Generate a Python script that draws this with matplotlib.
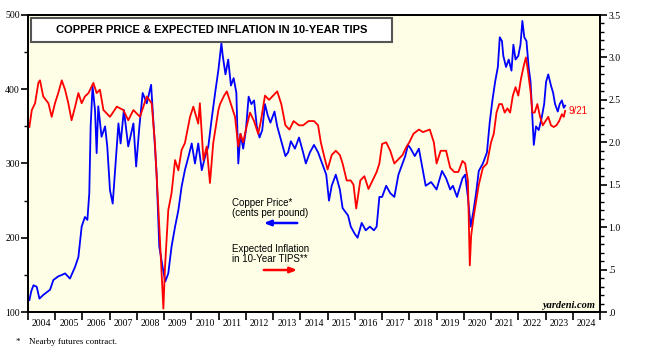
import matplotlib
matplotlib.use('Agg')
import matplotlib.pyplot as plt
from matplotlib.patches import Rectangle, FancyArrowPatch
from matplotlib.ticker import FixedLocator, MultipleLocator

# --- data (decimal years) ---
copper_dates = [2004.05, 2004.12, 2004.2, 2004.32, 2004.42, 2004.56, 2004.7, 2004.81, 2004.93,
                2005.11, 2005.25, 2005.36, 2005.54, 2005.73, 2005.85, 2005.97, 2006.09, 2006.18,
                2006.25, 2006.3, 2006.37, 2006.46, 2006.52, 2006.58, 2006.7, 2006.83, 2006.91,
                2007.01, 2007.11, 2007.19, 2007.32, 2007.4, 2007.52, 2007.68, 2007.87, 2007.97,
                2008.09, 2008.21, 2008.36, 2008.52, 2008.63, 2008.72, 2008.82, 2008.94, 2009.04,
                2009.15, 2009.27, 2009.4, 2009.52, 2009.64, 2009.76, 2009.89, 2010.01, 2010.13,
                2010.25, 2010.38, 2010.5, 2010.62, 2010.74, 2010.87, 2010.99, 2011.1, 2011.15,
                2011.25, 2011.35, 2011.45, 2011.55, 2011.65, 2011.72, 2011.8, 2011.9, 2012.0,
                2012.1, 2012.2, 2012.3, 2012.4, 2012.5, 2012.6, 2012.7, 2012.8, 2012.9, 2013.05,
                2013.15, 2013.3, 2013.45, 2013.55, 2013.65, 2013.8, 2013.95, 2014.1, 2014.2,
                2014.35, 2014.5, 2014.65, 2014.8, 2014.95, 2015.05, 2015.15, 2015.3, 2015.45,
                2015.55, 2015.65, 2015.75, 2015.85, 2016.0, 2016.1, 2016.25, 2016.4, 2016.55,
                2016.7, 2016.8, 2016.9, 2017.0, 2017.15, 2017.3, 2017.45, 2017.6, 2017.75,
                2017.85, 2017.95, 2018.05, 2018.2, 2018.35, 2018.5, 2018.6, 2018.8, 2019.0,
                2019.2, 2019.35, 2019.5, 2019.6, 2019.75, 2019.95, 2020.05, 2020.15, 2020.25,
                2020.35, 2020.45, 2020.55, 2020.7, 2020.85, 2020.95, 2021.05, 2021.15, 2021.25,
                2021.32, 2021.4, 2021.45, 2021.55, 2021.65, 2021.75, 2021.82, 2021.9, 2022.0,
                2022.08, 2022.15, 2022.22, 2022.3, 2022.38, 2022.45, 2022.52, 2022.57, 2022.65,
                2022.75, 2022.85, 2022.95, 2023.02, 2023.1, 2023.2, 2023.28, 2023.35, 2023.45,
                2023.52, 2023.6, 2023.67, 2023.72]
copper_vals = [116, 128, 136, 134, 118, 123, 127, 130, 143,
               148, 150, 152, 145, 161, 174, 215, 228, 224,
               260, 350, 404, 372, 314, 377, 336, 350, 323,
               264, 246, 287, 354, 327, 372, 323, 354, 296,
               350, 395, 381, 406, 341, 287, 188, 161, 141,
               152, 188, 215, 237, 269, 291, 309, 327, 300,
               327, 291, 309, 323, 359, 395, 426, 462, 445,
               420, 440, 405, 415, 395, 300, 340, 320, 345,
               390, 380, 385, 350, 335, 345, 380, 365, 355, 370,
               350, 330, 310, 315, 330, 320, 335, 315, 300,
               315, 325, 315, 300, 285, 250, 270, 285, 265,
               240, 235, 230, 215, 205, 200, 220, 210, 215,
               210, 215, 255, 255, 270, 260, 255, 285, 300,
               310, 325, 320, 310, 320, 290, 270, 275, 265,
               290, 280, 265, 270, 255, 280, 285, 255, 215,
               235, 260, 290, 300, 315, 355, 385, 410, 430,
               470, 465, 445, 430, 440, 425, 460, 440, 445,
               460, 492, 470, 465, 430, 410, 360, 325, 350,
               345, 360, 380, 410, 420, 405, 395, 380, 370,
               380, 385, 375, 378]

tips_dates = [2004.05, 2004.14, 2004.26, 2004.38, 2004.44, 2004.56, 2004.75, 2004.87, 2004.99,
              2005.11, 2005.24, 2005.36, 2005.48, 2005.6, 2005.73, 2005.85, 2005.97, 2006.09,
              2006.22, 2006.4, 2006.52, 2006.64, 2006.77, 2007.01, 2007.26, 2007.5, 2007.68,
              2007.87, 2008.11, 2008.36, 2008.54, 2008.66, 2008.79, 2008.91, 2008.97, 2009.03,
              2009.15, 2009.27, 2009.4, 2009.52, 2009.64, 2009.76, 2009.95, 2010.07, 2010.25,
              2010.31, 2010.44, 2010.56, 2010.68, 2010.8, 2010.99, 2011.05, 2011.2, 2011.3,
              2011.4, 2011.5, 2011.6, 2011.72, 2011.8, 2011.9, 2012.0, 2012.15, 2012.3, 2012.45,
              2012.55, 2012.7, 2012.85, 2013.0, 2013.15, 2013.3, 2013.45, 2013.6, 2013.75,
              2013.95, 2014.1, 2014.3, 2014.5, 2014.65, 2014.75, 2014.9, 2015.0, 2015.15,
              2015.3, 2015.45, 2015.55, 2015.7, 2015.85, 2015.95, 2016.05, 2016.2, 2016.35,
              2016.5, 2016.65, 2016.8, 2016.9, 2017.0, 2017.15, 2017.3, 2017.45, 2017.6,
              2017.75, 2017.9, 2018.0, 2018.15, 2018.35, 2018.5, 2018.75, 2018.9, 2019.0,
              2019.15, 2019.35, 2019.5, 2019.65, 2019.8, 2019.95, 2020.05, 2020.15, 2020.22,
              2020.27, 2020.35, 2020.45, 2020.55, 2020.7, 2020.85, 2021.0, 2021.1, 2021.2,
              2021.3, 2021.4, 2021.5, 2021.6, 2021.7, 2021.8, 2021.9, 2022.0, 2022.1, 2022.2,
              2022.28, 2022.35, 2022.45, 2022.52, 2022.6, 2022.7, 2022.8, 2022.9, 2023.0,
              2023.1, 2023.2, 2023.3, 2023.4, 2023.5, 2023.6, 2023.67, 2023.72]
tips_vals = [2.18, 2.38, 2.46, 2.70, 2.73, 2.54, 2.46, 2.30, 2.46,
             2.58, 2.73, 2.62, 2.46, 2.26, 2.42, 2.58, 2.46, 2.54,
             2.58, 2.70, 2.58, 2.62, 2.38, 2.30, 2.42, 2.38, 2.26,
             2.38, 2.30, 2.54, 2.46, 1.99, 1.20, 0.42, 0.04, 0.53,
             1.20, 1.40, 1.79, 1.67, 1.91, 1.99, 2.30, 2.42, 2.22,
             2.46, 1.79, 1.95, 1.52, 1.99, 2.38, 2.45, 2.55, 2.60,
             2.50, 2.40, 2.30, 1.95, 2.10, 2.00, 2.15, 2.35, 2.25, 2.10,
             2.25, 2.55, 2.50, 2.55, 2.60, 2.45, 2.20, 2.15, 2.25,
             2.20, 2.20, 2.25, 2.25, 2.20, 2.00, 1.80, 1.68, 1.85,
             1.90, 1.85, 1.75, 1.55, 1.55, 1.50, 1.22, 1.55, 1.60,
             1.45, 1.55, 1.65, 1.75, 1.98, 2.00, 1.90, 1.75, 1.80,
             1.85, 1.95, 2.00, 2.10, 2.15, 2.12, 2.15, 2.00, 1.75,
             1.90, 1.90, 1.70, 1.65, 1.65, 1.78, 1.75, 1.55, 0.55,
             0.90, 1.10, 1.30, 1.50, 1.70, 1.75, 2.00, 2.10, 2.35,
             2.45, 2.45, 2.35, 2.40, 2.35, 2.55, 2.65, 2.55, 2.75, 2.90,
             3.00, 2.85, 2.60, 2.35, 2.35, 2.45, 2.30, 2.20, 2.25,
             2.30, 2.20, 2.18, 2.20, 2.25, 2.33, 2.30, 2.37]

years = list(range(2004, 2025))
right_labels = ['.0', '.5', '1.0', '1.5', '2.0', '2.5', '3.0', '3.5']

serif = 'Liberation Serif'
sans = 'Liberation Sans'

fig = plt.figure(figsize=(6.48, 3.49), dpi=100)
ax = fig.add_axes([28 / 648, 37 / 349, 572 / 648, 297 / 349])
ax.set_facecolor('#fefee6')
ax.plot(copper_dates, copper_vals, color='#0000ff', lw=1.3)
ax.set_xlim(2004, 2025)
ax.set_ylim(100, 500)

ax2 = ax.twinx()
ax2.plot(tips_dates, tips_vals, color='#ff0000', lw=1.3)
ax2.set_ylim(0, 3.5)

# x axis: ticks at year boundaries, labels mid-year
ax.xaxis.set_major_locator(FixedLocator(list(range(2004, 2026))))
ax.xaxis.set_minor_locator(FixedLocator([y + 0.5 for y in years]))
ax.set_xticklabels([], minor=False)
ax.set_xticklabels([str(y) for y in years], minor=True, fontfamily=serif, fontsize=7)
ax.tick_params(axis='x', which='major', length=6, width=1.2, direction='out')
ax.tick_params(axis='x', which='minor', length=0, pad=5)

ax.yaxis.set_major_locator(MultipleLocator(100))
ax.yaxis.set_minor_locator(MultipleLocator(50))
ax.tick_params(axis='y', which='major', length=5, width=1.2, pad=1)
ax.tick_params(axis='y', which='minor', length=3, width=1)
for lab in ax.get_yticklabels():
    lab.set_fontfamily(serif)
    lab.set_fontsize(7)

ax2.yaxis.set_major_locator(FixedLocator([i * 0.5 for i in range(8)]))
ax2.set_yticklabels(right_labels, fontfamily=serif, fontsize=7)
ax2.yaxis.set_minor_locator(MultipleLocator(0.1))
ax2.tick_params(axis='y', which='major', length=5, width=1.2, pad=1)
ax2.tick_params(axis='y', which='minor', length=3, width=1)

for a in (ax, ax2):
    for s in a.spines.values():
        s.set_linewidth(1.3)
        s.set_color('black')

# title box
ax2.add_patch(Rectangle((0.005, 0.909), 0.631, 0.081, transform=ax2.transAxes,
                        facecolor='white', edgecolor='#555555', lw=1.5, zorder=5))
ax2.text(0.3205, 0.9495, 'COPPER PRICE & EXPECTED INFLATION IN 10-YEAR TIPS',
         transform=ax2.transAxes, ha='center', va='center', fontfamily=sans,
         fontweight='bold', fontsize=8, zorder=6)

# legend texts and arrows
def axpos(px, py):
    return ((px - 28) / 572, (312 - py) / 297)

ax2.text(*axpos(232, 208), 'Copper Price*\n(cents per pound)', transform=ax2.transAxes,
         ha='left', va='center', fontfamily=sans, fontsize=7, linespacing=1.05)
ax2.text(*axpos(232, 254), 'Expected Inflation\nin 10-Year TIPS**', transform=ax2.transAxes,
         ha='left', va='center', fontfamily=sans, fontsize=7, linespacing=1.05)
ax2.add_patch(FancyArrowPatch(axpos(300, 223), axpos(261, 223), transform=ax2.transAxes,
                              arrowstyle='-|>,head_length=4,head_width=1.6',
                              color='#0000ff', lw=1.8, mutation_scale=1))
ax2.add_patch(FancyArrowPatch(axpos(261, 270), axpos(300, 270), transform=ax2.transAxes,
                              arrowstyle='-|>,head_length=4,head_width=1.6',
                              color='#ff0000', lw=1.8, mutation_scale=1))

ax2.text(2023.85, 2.37, '9/21', color='#ff0000', fontfamily=sans, fontsize=7,
         ha='left', va='center')
ax2.text(*axpos(595, 305), 'yardeni.com', transform=ax2.transAxes, ha='right',
         va='center', fontfamily=serif, fontweight='bold', fontstyle='italic', fontsize=7.5)

# footnotes
fig.text(16 / 648, 1 - 342 / 349, '*', fontfamily=serif, fontsize=6.5, va='center')
fig.text(29 / 648, 1 - 342 / 349, 'Nearby futures contract.', fontfamily=serif,
         fontsize=6.5, va='center')
fig.text(14 / 648, 1 - 353 / 349, '**  Nominal 10-year Treasury yield less 10-year TIPS yield.',
         fontfamily=serif, fontsize=6.5, va='center')

fig.savefig('out.png', dpi=100)
